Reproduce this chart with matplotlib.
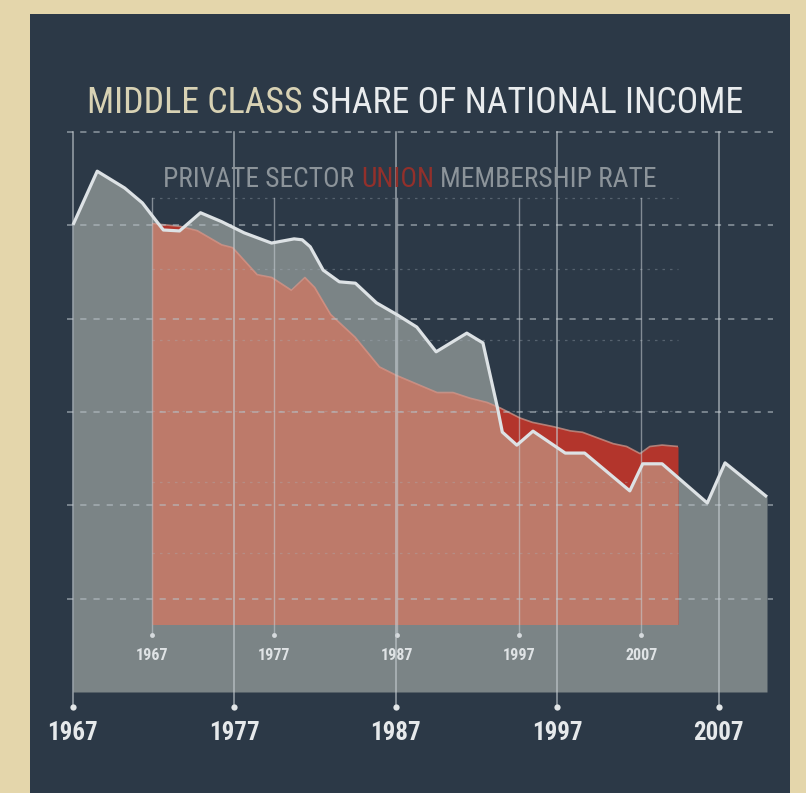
import matplotlib
matplotlib.use("Agg")
import matplotlib.pyplot as plt
from matplotlib import font_manager as fm
from matplotlib.patches import Rectangle
import matplotlib.transforms as mtransforms

# ---------------- data ----------------
income_years = [1967.0, 1968.5, 1970.2, 1971.3, 1972.1, 1972.6, 1973.6, 1974.9, 1976.2,
                1977.6, 1979.3, 1980.7, 1981.2, 1981.7, 1982.5, 1983.5, 1984.5, 1985.8,
                1987.1, 1988.3, 1989.5, 1991.4, 1992.4, 1993.3, 1993.6, 1994.5, 1995.5,
                1997.5, 1998.7, 2001.5, 2002.3, 2003.5, 2004.5, 2006.3, 2007.4, 2010.0]
income_share = [52.01, 53.16, 52.80, 52.48, 52.12, 51.90, 51.88, 52.27, 52.08,
                51.84, 51.62, 51.71, 51.69, 51.54, 51.04, 50.79, 50.76, 50.34,
                50.08, 49.82, 49.29, 49.69, 49.48, 48.09, 47.57, 47.29, 47.59,
                47.12, 47.12, 46.31, 46.89, 46.89, 46.59, 46.05, 46.91, 46.18]

union_years = [1967.0, 1969.3, 1970.7, 1972.7, 1973.6, 1975.6, 1976.8, 1978.4, 1979.5,
               1980.3, 1981.6, 1983.6, 1985.6, 1987.0, 1990.3, 1991.6, 1993.0, 1994.4,
               1995.5, 1997.1, 1998.1, 1999.8, 2001.2, 2002.2, 2004.7, 2005.8, 2006.9,
               2007.7, 2008.7, 2010.0]
union_rate = [28.2, 28.0, 27.7, 26.7, 26.5, 24.6, 24.4, 23.5, 24.4,
              23.7, 21.8, 20.2, 18.1, 17.5, 16.3, 16.3, 15.9, 15.6,
              15.2, 14.5, 14.2, 13.9, 13.6, 13.5, 12.7, 12.5, 12.0,
              12.5, 12.6, 12.5]

tick_years = [1967, 1977, 1987, 1997, 2007]
tick_labels = ["1967", "1977", "1987", "1997", "2007"]
income_grid = [44, 46, 48, 50, 52, 54]
union_grid = [5, 10, 15, 20, 25, 30]

title_parts = [("MIDDLE CLASS", "#d8d2b4"), ("SHARE OF NATIONAL INCOME", "#e9ecee")]
subtitle_parts = [("PRIVATE SECTOR", "#8c949a"), ("UNION", "#93302b"), ("MEMBERSHIP RATE", "#8c949a")]

# ---------------- style ----------------
PAPER = "#e4d6ab"
NAVY = "#2c3947"
GRAY_FILL = "#7b8486"
SALMON = "#bd7a6a"
RED = "#b3352c"
LINE = "#dde2e5"
VLINE = "#c9d0d5"

W, H = 806, 793


def fx(px):
    return px / W


def fy(py):
    return 1 - py / H


def pick_font():
    entries = fm.fontManager.ttflist
    names = {f.name for f in entries}
    for n in ["Roboto Condensed", "Liberation Sans Narrow", "Noto Sans Condensed",
              "Open Sans Condensed", "DejaVu Sans Condensed"]:
        if n in names:
            return dict(family=n)
    for f in entries:
        if f.name == "DejaVu Sans" and str(f.stretch) in ("condensed", "semi-condensed", "500", "400"):
            if str(f.stretch) != "normal":
                return dict(family="DejaVu Sans", stretch="condensed")
    return dict(family="DejaVu Sans")


FONT = pick_font()

fig = plt.figure(figsize=(W / 100, H / 100), dpi=100, facecolor=PAPER)
fig.add_artist(Rectangle((fx(30), 0), fx(790) - fx(30), fy(14), transform=fig.transFigure,
                         facecolor=NAVY, edgecolor="none", zorder=0))

gray_pos = [fx(73), fy(692), fx(767) - fx(73), fy(132) - fy(692)]
union_pos = [fx(152), fy(624), fx(678) - fx(152), fy(198) - fy(624)]

ax_gray = fig.add_axes(gray_pos)
ax_union = fig.add_axes(union_pos)
ax_top = fig.add_axes(gray_pos)
for z, ax in enumerate([ax_gray, ax_union, ax_top], start=1):
    ax.set_zorder(z)
    ax.patch.set_visible(False)
    for s in ax.spines.values():
        s.set_visible(False)
    ax.set_yticks([])
    ax.set_xlim(1967, 2010)

for ax in (ax_gray, ax_top):
    ax.set_ylim(42, 54)
ax_union.set_ylim(0, 30)

# gray area
gray_poly = ax_gray.fill_between(income_years, income_share, 42, color=GRAY_FILL, lw=0)
ax_gray.set_xticks([])

# union area: red above the income line, salmon below it
ax_union.fill_between(union_years, union_rate, 0, color=RED, lw=0)
sal = ax_union.fill_between(union_years, union_rate, 0, color=SALMON, lw=0)
sal.set_clip_path(gray_poly.get_paths()[0], ax_gray.transData)
ax_union.plot(union_years, union_rate, color="#d9988a", lw=1.2, alpha=0.75)

for v in union_grid:
    ax_union.axhline(v, color="#a7b1ba", lw=0.9, ls=(0, (2, 4)), alpha=0.35, clip_on=False)

tu = mtransforms.blended_transform_factory(ax_union.transData, ax_union.transAxes)
for x in tick_years:
    ax_union.plot([x, x], [-0.026, 1.0], color=VLINE, lw=1.0, alpha=0.55, transform=tu, clip_on=False)
    ax_union.plot([x], [-0.026], "o", ms=3.5, color="#d5dadd", mec="none", transform=tu, clip_on=False)
ax_union.set_xticks(tick_years, labels=tick_labels, fontsize=11.5, color="#dfe3e5",
                    fontweight="bold", **{("font" + k if k != "family" else "fontfamily"): v for k, v in FONT.items()})
ax_union.tick_params(axis="x", length=0, pad=17)

# top layer: grid, verticals, income line, main ticks
for v in income_grid:
    ax_top.axhline(v, xmin=-0.008, xmax=1.009, color="#b7c0c7", lw=1.4, ls=(0, (3.2, 3.6)),
                   alpha=0.55, clip_on=False)

tt = mtransforms.blended_transform_factory(ax_top.transData, ax_top.transAxes)
for x in tick_years:
    ax_top.plot([x, x], [-0.027, 1.0], color=VLINE, lw=1.1, alpha=0.7, transform=tt, clip_on=False)
    ax_top.plot([x], [-0.027], "o", ms=4.5, color="#e2e6e8", mec="none", transform=tt, clip_on=False)

ax_top.plot(income_years, income_share, color=LINE, lw=2.3, solid_joinstyle="round",
            solid_capstyle="butt", clip_on=False)
ax_top.set_xticks(tick_years, labels=tick_labels, fontsize=18, color="#e6e9eb",
                  fontweight="bold", **{("font" + k if k != "family" else "fontfamily"): v for k, v in FONT.items()})
ax_top.tick_params(axis="x", length=0, pad=21)


# ---------------- titles ----------------
def text_kw():
    kw = {"fontfamily": FONT["family"]}
    if "stretch" in FONT:
        kw["fontstretch"] = FONT["stretch"]
    return kw


def draw_parts(parts, cx, base_y, target_w, size0):
    r = fig.canvas.get_renderer()
    kw = text_kw()

    def measure(size):
        ws = []
        for s, _c in parts:
            t = fig.text(0, 0, s, fontsize=size, **kw)
            ws.append(t.get_window_extent(r).width)
            t.remove()
        t1 = fig.text(0, 0, "M M", fontsize=size, **kw)
        t2 = fig.text(0, 0, "MM", fontsize=size, **kw)
        sp = t1.get_window_extent(r).width - t2.get_window_extent(r).width
        t1.remove()
        t2.remove()
        return ws, sp

    ws, sp = measure(size0)
    total = sum(ws) + sp * (len(ws) - 1)
    size = size0 * target_w / total
    ws, sp = measure(size)
    total = sum(ws) + sp * (len(ws) - 1)
    x = cx - total / 2
    for (s, c), w in zip(parts, ws):
        fig.text(fx(x), fy(base_y), s, fontsize=size, color=c, ha="left", va="baseline", **kw)
        x += w + sp


draw_parts(title_parts, 415, 113, 656, 30)
draw_parts(subtitle_parts, 410, 187, 494, 24)

fig.savefig("out.png", dpi=100, facecolor=PAPER)
